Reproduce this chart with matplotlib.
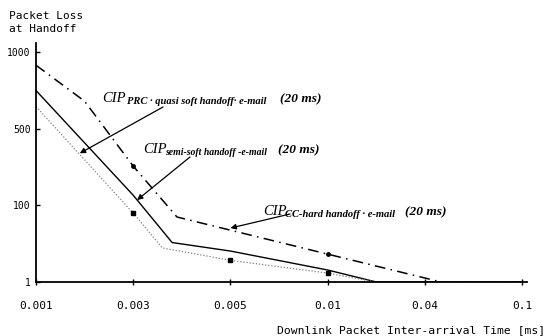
import numpy as np
import matplotlib
matplotlib.use("Agg")
import matplotlib.pyplot as plt

# Axes categories (both axes are drawn with evenly spaced ticks)
x_ticks = [0.001, 0.003, 0.005, 0.01, 0.04, 0.1]
x_tick_labels = ["0.001", "0.003", "0.005", "0.01", "0.04", "0.1"]
y_ticks = [1, 100, 500, 1000]
y_tick_labels = ["1", "100", "500", "1000"]

# CIP CC hard handoff (dash-dot)
cc_x = [0.001, 0.002, 0.003, 0.0039, 0.01, 0.05, 0.1]
cc_y = [915, 680, 305, 85, 37, 1, 1]
# CIP semi-soft handoff (solid)
semi_x = [0.001, 0.003, 0.0038, 0.005, 0.01, 0.025, 0.1]
semi_y = [750, 153, 52, 41, 16.5, 1, 1]
# CIP PRC quasi soft handoff (dotted)
prc_x = [0.001, 0.003, 0.0036, 0.005, 0.01, 0.025, 0.1]
prc_y = [645, 90, 45, 29, 12.5, 1, 1]

# piecewise scale: each tick step takes the same length
xs_val = [-0.001] + x_ticks + [0.16]
xs_idx = list(range(-1, len(x_ticks) + 1))
ys_val = [-98] + y_ticks + [1500]
ys_idx = list(range(-1, len(y_ticks) + 1))


def xf(v):
    return np.interp(v, xs_val, xs_idx)


def xinv(i):
    return np.interp(i, xs_idx, xs_val)


def yf(v):
    return np.interp(v, ys_val, ys_idx)


def yinv(i):
    return np.interp(i, ys_idx, ys_val)


W, H = 546, 336
fig = plt.figure(figsize=(W / 100, H / 100), dpi=100)
ax = fig.add_axes([36 / W, 1 - 282 / H, (527 - 36) / W, (282 - 43) / H])
ax.set_xscale("function", functions=(xf, xinv))
ax.set_yscale("function", functions=(yf, yinv))

ax.plot(cc_x, cc_y, color="black", lw=1.1, linestyle=(0, (7, 3.5, 1, 3.5)),
        marker="o", ms=2.5, markevery=[2, 4])
ax.plot(semi_x, semi_y, color="black", lw=1.0)
ax.plot(prc_x, prc_y, color="#808080", lw=0.9, linestyle=(0, (1, 1.5)),
        marker="s", ms=3.2, mfc="black", mec="black", markevery=[1, 3, 4])

ax.set_xlim(0.001, 0.103)
ax.set_ylim(1, 1060)
ax.set_xticks(x_ticks, x_tick_labels, fontfamily="DejaVu Sans Mono", fontsize=8)
ax.set_yticks(y_ticks, y_tick_labels, fontfamily="DejaVu Sans Mono", fontsize=7)
ax.minorticks_off()
ax.tick_params(axis="x", direction="inout", length=5, width=1, pad=11)
ax.tick_params(axis="y", direction="in", length=3, width=1, pad=4)
for s in ["top", "right"]:
    ax.spines[s].set_visible(False)
for s in ["left", "bottom"]:
    ax.spines[s].set_linewidth(1.3)


def px(x, y):
    return x / W, 1 - y / H


# labels
fig.text(*px(9, 11), "Packet Loss\nat Handoff", ha="left", va="top",
         family="DejaVu Sans Mono", fontsize=8, linespacing=1.4)
fig.text(*px(545, 333), "Downlink Packet Inter-arrival Time [ms]", ha="right",
         va="baseline", family="DejaVu Sans Mono", fontsize=8.2)

serif = "Liberation Serif"
notes = [
    # (CIP x, baseline, subscript, sub x, "(20 ms)" x, subscript size)
    (102, 102, "PRC · quasi soft handoff· e-mail", 127, 280, 7.6),
    (143, 153, "semi-soft handoff -e-mail", 165, 278, 7.0),
    (263, 215, "CC-hard handoff · e-mail", 285, 405, 7.6),
]
for cx, cy, sub, sx, mx, ss in notes:
    fig.text(*px(cx, cy), "CIP", family=serif, style="italic", fontsize=10.5,
             va="baseline")
    fig.text(*px(sx, cy + 2), sub, family=serif, style="italic",
             weight="bold", fontsize=ss, va="baseline")
    fig.text(*px(mx, cy), "(20 ms)", family=serif, style="italic",
             weight="bold", fontsize=9.6, va="baseline")

# arrows: tip on the curve, tail near the label
arrows = [
    ((0.0019, 372), (163, 107)),
    ((0.00308, 128), (190, 157)),
    ((0.005, 70.7), (290, 214)),
]
for tip, tail in arrows:
    ax.annotate("", xy=tip, xycoords="data", xytext=px(*tail),
                textcoords="figure fraction",
                arrowprops=dict(arrowstyle="-|>", color="black", lw=0.9,
                                mutation_scale=8, shrinkA=0, shrinkB=0))

fig.savefig("out.png", dpi=100)
